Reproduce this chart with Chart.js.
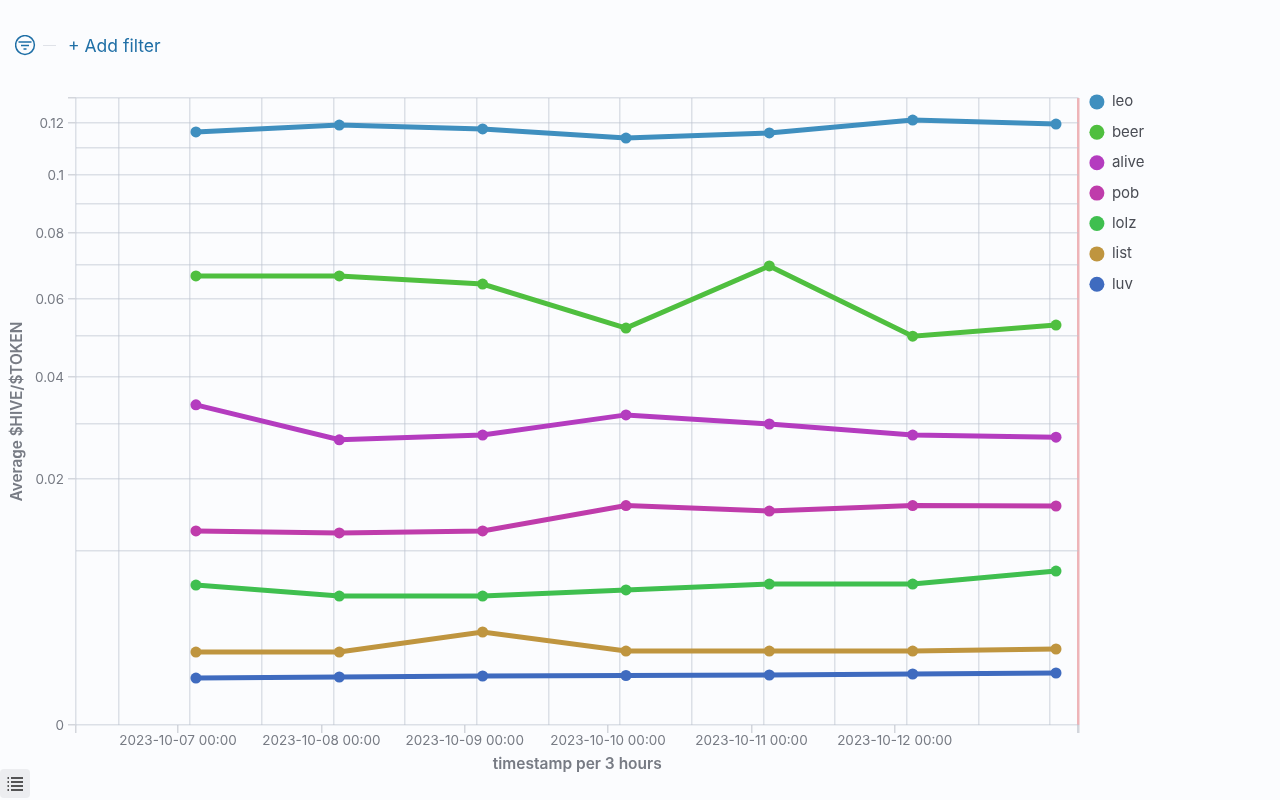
<!DOCTYPE html>
<html><head><meta charset="utf-8">
<style>
html,body{margin:0;padding:0;background:#fbfcfe;width:1280px;height:800px;overflow:hidden;font-family:Inter,sans-serif}
#wrap{position:absolute;left:0;top:0;width:1280px;height:800px}
#filter{position:absolute;left:15px;top:35px}
#dash{position:absolute;left:43px;top:44.5px;width:13px;height:1.5px;background:#dfe2e8}
#add{position:absolute;left:68px;top:35.5px;font-size:17.5px;line-height:20px;color:#1f6fa6}
#btn{position:absolute;left:0;top:769px;width:30px;height:29px;background:#ecedf0;border-radius:4px}
</style></head><body>
<div id="wrap"><canvas id="c" width="1280" height="800"></canvas></div>
<svg id="filter" width="21" height="21" viewBox="0 0 21 21" fill="none" stroke="#1f6fa6" stroke-width="1.5"><circle cx="10" cy="10" r="9.4"/><path d="M3.5 7h13M6 10.5h8M8.5 14h3"/></svg>
<div id="dash"></div>
<div id="add">+ Add filter</div>
<div id="btn"><svg width="30" height="29" viewBox="0 0 30 29" stroke="#222" stroke-width="1.3" fill="none"><path d="M7.5 9h1.5M11 9h12M7.5 13h1.5M11 13h12M7.5 17h1.5M11 17h12M7.5 21h1.5M11 21h12"/></svg></div>
<script src="https://cdn.jsdelivr.net/npm/chart.js@4"></script>
<script>
const pointHours = [3, 27, 51, 75, 99, 123, 147];
const dayTicks = [0, 24, 48, 72, 96, 120];
const dayLabels = ['2023-10-07 00:00','2023-10-08 00:00','2023-10-09 00:00','2023-10-10 00:00','2023-10-11 00:00','2023-10-12 00:00'];
const gridHours = [-10, 2, 14, 26, 38, 50, 62, 74, 86, 98, 110, 122, 134, 146];
const yLabelled = [0, 0.02, 0.04, 0.06, 0.08, 0.1, 0.12];
const yMinor = [0.01, 0.03, 0.05, 0.07, 0.09, 0.11, 0.13];

const leo   = [0.1163, 0.1190, 0.1175, 0.1139, 0.1159, 0.1210, 0.1194];
const beer  = [0.0667, 0.0667, 0.0643, 0.0521, 0.0697, 0.0500, 0.0529];
const alive = [0.0339, 0.0269, 0.0278, 0.0318, 0.02996, 0.0278, 0.0274];
const pob   = [0.01245, 0.0122, 0.01245, 0.01593, 0.01514, 0.01593, 0.01586];
const lolz  = [0.00648, 0.0055, 0.0055, 0.00603, 0.00657, 0.00657, 0.00784];
const list  = [0.00176, 0.00176, 0.00286, 0.00181, 0.00181, 0.00181, 0.00191];
const luv   = [0.00073, 0.000762, 0.000794, 0.00081, 0.000827, 0.00086, 0.000894];

const seriesNames = ['leo','beer','alive','pob','lolz','list','luv'];
const seriesValues = [leo, beer, alive, pob, lolz, list, luv];
const seriesColors = ['#3f8fbf','#4fbf3f','#b43cbf','#bf3cab','#3fbf4f','#bf953f','#3f6bbf'];

const X_MIN = -17.08, X_MAX = 150.77;
const GRID = 'rgba(190,196,207,0.5)';
const TICK = '#d3d6dc';
const TEXT = '#777b84';
const NONE = 'rgba(0,0,0,0)';

class SqrtScale extends Chart.LinearScale {
  getPixelForValue(v) {
    return this.getPixelForDecimal(Math.sqrt(Math.max(v, 0)) / Math.sqrt(this.max));
  }
  getValueForPixel(p) {
    const d = this.getDecimalForPixel(p) * Math.sqrt(this.max);
    return d * d;
  }
}
SqrtScale.id = 'sqrt';
SqrtScale.defaults = Chart.LinearScale.defaults;
Chart.register(SqrtScale);

const legendPlace = {
  id: 'legendPlace',
  afterLayout(chart) {
    const l = chart.legend;
    const w = l.right - l.left;
    l.left = 1074; l.right = 1074 + w;
    l.top = 79;
  }
};

new Chart(document.getElementById('c'), {
  type: 'line',
  plugins: [legendPlace],
  data: {
    datasets: seriesNames.map((n, i) => ({
      label: n,
      data: pointHours.map((h, k) => ({ x: h, y: seriesValues[i][k] })),
      borderColor: seriesColors[i],
      backgroundColor: seriesColors[i],
      borderWidth: 5,
      pointRadius: 5.5,
      pointHoverRadius: 5.5,
      pointBorderWidth: 0,
      tension: 0
    }))
  },
  options: {
    responsive: false,
    animation: false,
    layout: { padding: { left: 0, top: 98, bottom: 26, right: 121 } },
    plugins: {
      tooltip: { enabled: false },
      legend: {
        position: 'right',
        align: 'start',
        onClick: null,
        labels: {
          usePointStyle: true,
          pointStyle: 'circle',
          boxWidth: 15,
          boxHeight: 10.6,
          padding: 15.4,
          color: '#4a4d55',
          font: { family: 'Inter', size: 15 }
        }
      }
    },
    scales: {
      x: {
        type: 'linear',
        min: X_MIN,
        max: X_MAX,
        afterBuildTicks(s) {
          s.ticks = [X_MIN, ...gridHours, ...dayTicks, X_MAX].map(v => ({ value: v }));
        },
        afterFit(s) { s.height = 49; },
        border: { display: false },
        grid: {
          drawOnChartArea: true,
          tickLength: 8,
          lineWidth: c => (c.tick && c.tick.value === X_MAX ? 2.5 : 1.5),
          color: c => {
            const v = c.tick.value;
            if (v === X_MAX) return '#eeb4b8';
            return dayTicks.includes(v) ? NONE : GRID;
          },
          tickColor: c => (gridHours.includes(c.tick.value) ? NONE : TICK)
        },
        ticks: {
          autoSkip: false,
          maxRotation: 0,
          padding: 0,
          color: TEXT,
          font: { family: 'Inter', size: 13.5 },
          callback: v => {
            const i = dayTicks.indexOf(v);
            return i >= 0 ? dayLabels[i] : '';
          }
        },
        title: {
          display: true,
          text: 'timestamp per 3 hours',
          color: TEXT,
          padding: { top: 0, bottom: 0 },
          font: { family: 'Inter', size: 15.5, weight: '600' }
        }
      },
      y: {
        type: 'sqrt',
        min: 0,
        max: 0.13,
        afterBuildTicks(s) {
          s.ticks = [...yLabelled, ...yMinor].map(v => ({ value: v }));
        },
        afterFit(s) { s.width = 76; },
        border: { display: false },
        grid: {
          tickLength: 8,
          lineWidth: 1.5,
          color: GRID,
          tickColor: c => (yMinor.includes(c.tick.value) && c.tick.value !== 0.13 ? NONE : TICK)
        },
        ticks: {
          autoSkip: false,
          padding: 4,
          labelOffset: 1,
          color: TEXT,
          font: { family: 'Inter', size: 13.5 },
          callback: v => (yLabelled.includes(v) ? String(v) : '')
        },
        title: {
          display: true,
          text: 'Average $HIVE/$TOKEN',
          color: TEXT,
          padding: { top: 8, bottom: 0 },
          font: { family: 'Inter', size: 15.3, weight: '600' }
        }
      }
    }
  }
});
</script>
</body></html>
